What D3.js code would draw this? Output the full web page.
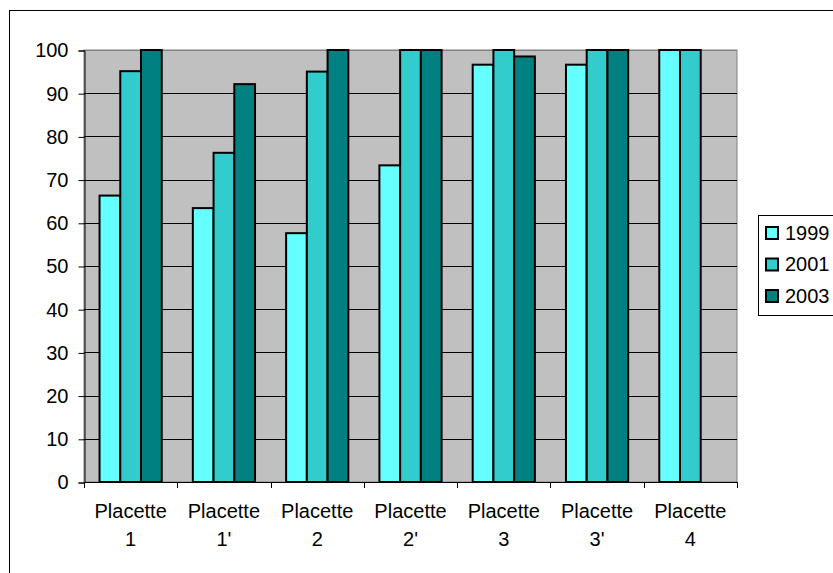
<!DOCTYPE html>
<html>
<head>
<meta charset="utf-8">
<script src="https://cdn.jsdelivr.net/npm/d3@7/dist/d3.min.js"></script>
<style>
  html, body { margin: 0; padding: 0; background: #fff; }
  svg { display: block; }
  text { font-family: "Liberation Sans", Arial, sans-serif; fill: #000; }
</style>
</head>
<body>
<svg id="chart" width="833" height="573"></svg>
<script>
// Chart data
const categories = ["Placette\n1", "Placette\n1'", "Placette\n2", "Placette\n2'", "Placette\n3", "Placette\n3'", "Placette\n4"];
const seriesNames = ["1999", "2001", "2003"];
const values1999 = [66.3, 63.4, 57.6, 73.3, 96.6, 96.6, 100];
const values2001 = [95.1, 76.2, 95.0, 100, 100, 100, 100];
const values2003 = [100, 92.1, 100, 100, 98.5, 100, null];
const seriesColors = ["#66FFFF", "#33CCCC", "#008080"];
const yTicks = [0, 10, 20, 30, 40, 50, 60, 70, 80, 90, 100];

const seriesValues = [values1999, values2001, values2003];

const svg = d3.select("#chart");
const plot = { left: 84, top: 50, right: 737, bottom: 482 };

// Outer chart frame (extends past the window on the right and bottom)
svg.append("rect")
  .attr("x", 9.5).attr("y", 10.5)
  .attr("width", 840).attr("height", 580)
  .attr("fill", "#fff").attr("stroke", "#000").attr("stroke-width", 1);

const x0 = d3.scaleBand().domain(d3.range(categories.length)).range([plot.left, plot.right]).padding(0);
const x1 = d3.scaleBand().domain(seriesNames).range([0, x0.bandwidth()]).paddingInner(0).paddingOuter(0.75);
const y = d3.scaleLinear().domain([0, 100]).range([plot.bottom, plot.top]);

// Plot background
svg.append("rect")
  .attr("x", plot.left).attr("y", plot.top)
  .attr("width", plot.right - plot.left).attr("height", plot.bottom - plot.top)
  .attr("fill", "#C0C0C0").attr("stroke", "#808080").attr("stroke-width", 1);

// Horizontal gridlines
svg.append("g")
  .selectAll("line")
  .data(yTicks.filter(t => t > 0))
  .join("line")
  .attr("x1", plot.left).attr("x2", plot.right)
  .attr("y1", d => Math.round(y(d)) + 0.5).attr("y2", d => Math.round(y(d)) + 0.5)
  .attr("stroke", d => d === 100 ? "#808080" : "#000").attr("stroke-width", 1);

// Bars
const bars = [];
seriesValues.forEach((vals, si) => {
  vals.forEach((v, ci) => {
    if (v != null) bars.push({ ci, si, v });
  });
});
svg.append("g")
  .selectAll("rect")
  .data(bars)
  .join("rect")
  .attr("x", d => x0(d.ci) + x1(seriesNames[d.si]))
  .attr("y", d => y(d.v))
  .attr("width", x1.bandwidth())
  .attr("height", d => y(0) - y(d.v))
  .attr("fill", d => seriesColors[d.si])
  .attr("stroke", "#000").attr("stroke-width", 2);

// Y axis
const yAxis = d3.axisLeft(y).tickValues(yTicks).tickSize(6).tickPadding(10).tickFormat(d3.format("d"));
const gy = svg.append("g").attr("transform", `translate(${plot.left + 0.5},0.5)`).call(yAxis);
gy.select(".domain").attr("stroke", "#000");
gy.selectAll(".tick line").attr("stroke", "#000");
gy.selectAll(".tick text").attr("font-size", 20).attr("font-family", "Liberation Sans, Arial, sans-serif").attr("fill", "#000");

// X axis: line along zero with ticks at category boundaries
svg.append("line")
  .attr("x1", plot.left).attr("x2", plot.right)
  .attr("y1", plot.bottom + 0.5).attr("y2", plot.bottom + 0.5)
  .attr("stroke", "#000");
const boundaries = d3.range(categories.length + 1).map(i => plot.left + i * x0.step());
svg.append("g").selectAll("line")
  .data(boundaries)
  .join("line")
  .attr("x1", d => Math.round(d) + 0.5).attr("x2", d => Math.round(d) + 0.5)
  .attr("y1", plot.bottom).attr("y2", plot.bottom + 6)
  .attr("stroke", "#000");

// Category labels (two lines)
const catLabels = svg.append("g").selectAll("text")
  .data(categories)
  .join("text")
  .attr("x", (d, i) => x0(i) + x0.bandwidth() / 2)
  .attr("y", 518)
  .attr("text-anchor", "middle")
  .attr("font-size", 20);
catLabels.each(function(d) {
  const lines = d.split("\n");
  const t = d3.select(this);
  const cx = t.attr("x");
  lines.forEach((ln, k) => {
    t.append("tspan").attr("x", cx).attr("dy", k === 0 ? 0 : 28).text(ln);
  });
});

// Legend
const legend = svg.append("g");
legend.append("rect")
  .attr("x", 758.5).attr("y", 215.5)
  .attr("width", 90).attr("height", 100)
  .attr("fill", "#fff").attr("stroke", "#000");
seriesNames.forEach((name, i) => {
  const yy = 227 + i * 31.5;
  legend.append("rect")
    .attr("x", 766).attr("y", yy)
    .attr("width", 12).attr("height", 12)
    .attr("fill", seriesColors[i]).attr("stroke", "#000").attr("stroke-width", 2);
  legend.append("text")
    .attr("x", 785).attr("y", yy + 12.5)
    .attr("font-size", 20)
    .text(name);
});
</script>
</body>
</html>
